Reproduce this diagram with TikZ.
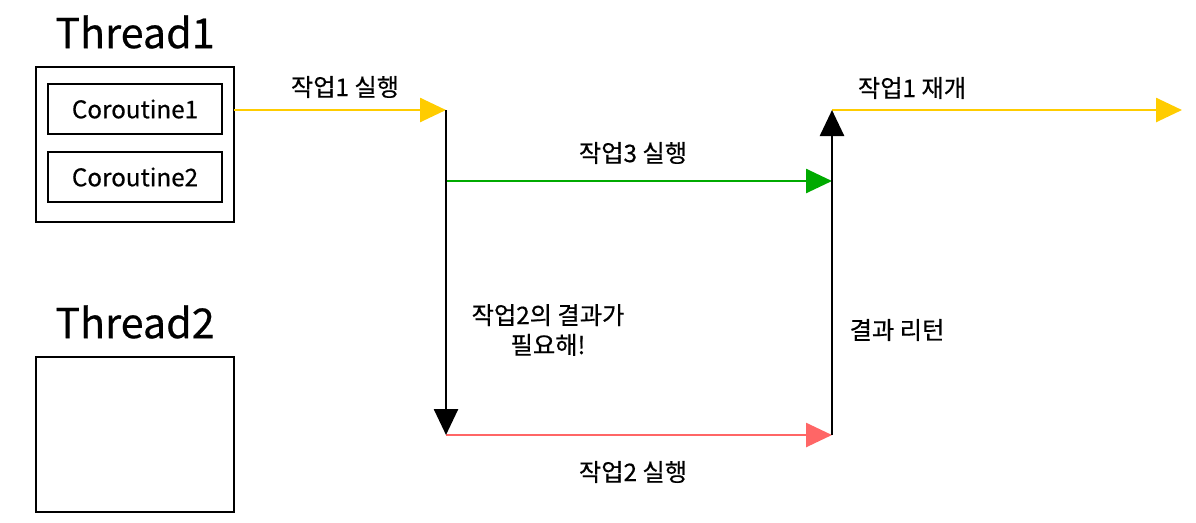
\documentclass[tikz,border=0pt]{standalone}
\usepackage{fontspec}
\setmainfont{Noto Sans CJK KR}[FakeBold=0.5]
\usetikzlibrary{arrows.meta}
\definecolor{yel}{RGB}{255,204,0}
\definecolor{grn}{RGB}{0,170,0}
\definecolor{red1}{RGB}{255,102,102}
\begin{document}
\begin{tikzpicture}[x=0.02cm,y=-0.02cm,
  lbl/.style={font=\fontsize{13.8}{17}\selectfont,inner sep=0pt},
  ttl/.style={font=\fontsize{23.5}{26}\selectfont,inner sep=0pt},
  box/.style={draw,line width=0.9pt,inner sep=0pt},
  arr/.style={line width=1.5pt,-{Triangle[length=5.2mm,width=4.8mm]}}]
\useasboundingbox (0,0) rectangle (1196,522);
\node[ttl] (t1) at (135,32) {Thread1};
\node[box,minimum width=3.96cm,minimum height=3.1cm] (o1) at (135,144.5) {};
\node[box,minimum width=3.48cm,minimum height=1cm,lbl] (c1) at (135,109) {Coroutine1};
\node[box,minimum width=3.48cm,minimum height=1cm,lbl] (c2) at (135,177) {Coroutine2};
\node[ttl] (t2) at (135,322) {Thread2};
\node[box,minimum width=3.96cm,minimum height=3.1cm] (o2) at (135,434.5) {};
\coordinate (a1) at (234,110);
\coordinate (a2) at (446,110);
\coordinate (b1) at (446,181);
\coordinate (b2) at (832,181);
\coordinate (d1) at (446,435);
\coordinate (d2) at (832,435);
\coordinate (e1) at (832,110);
\coordinate (e2) at (1182,110);
\draw[arr,yel] (a1) -- (a2);
\draw[arr,grn] (b1) -- (b2);
\draw[arr,red1] (d1) -- (d2);
\draw[arr,yel] (e1) -- (e2);
\draw[arr,black] (a2) -- (d1);
\draw[arr,black] (d2) -- (e1);
\node[lbl] (l1) at (345,87) {작업1 실행};
\node[lbl] (l3) at (633,153) {작업3 실행};
\node[lbl] (l2) at (633,472) {작업2 실행};
\node[lbl] (l4) at (912,88) {작업1 재개};
\node[lbl,align=center] (l5) at (548,330) {작업2의 결과가\\필요해!};
\node[lbl] (l6) at (897,330) {결과 리턴};
\end{tikzpicture}
\end{document}
